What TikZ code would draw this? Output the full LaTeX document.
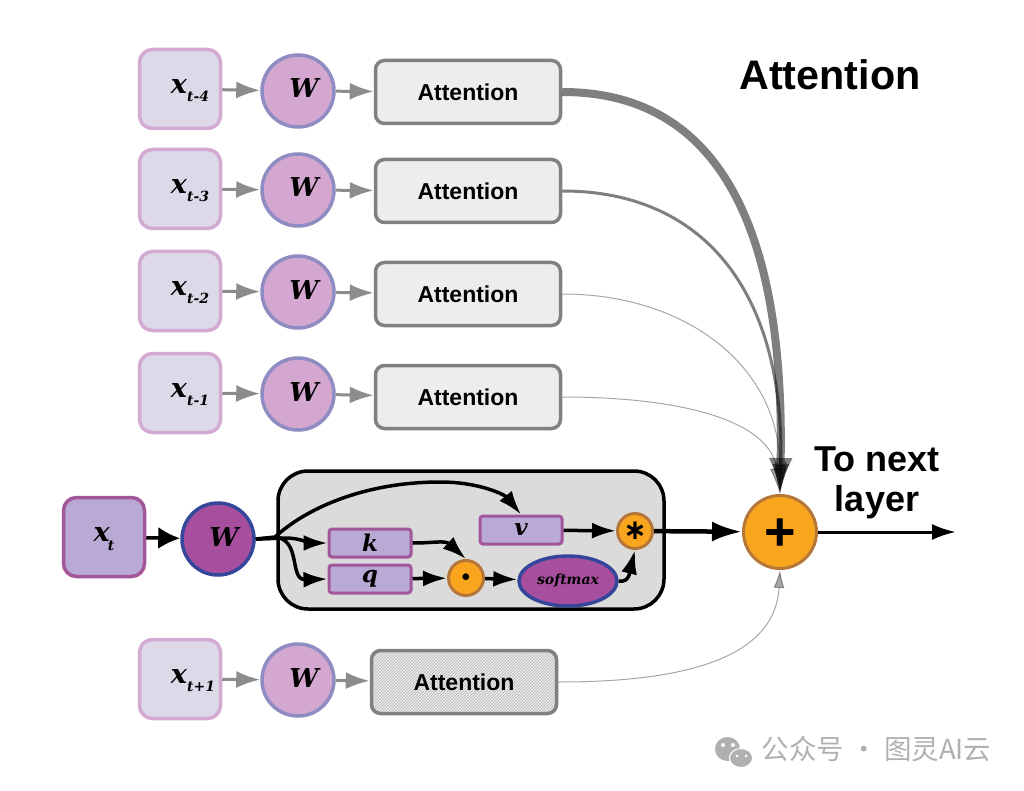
\documentclass[tikz,border=0pt]{standalone}
\usepackage{fontspec}
\setmainfont{Liberation Sans}
\newfontfamily\mathlike{DejaVu Serif}
\newfontfamily\opsign{DejaVu Sans}
\newfontfamily\cjk{Noto Sans CJK SC}
\usetikzlibrary{arrows.meta,patterns,shapes.geometric}
\definecolor{xlight}{HTML}{DED9E9}
\definecolor{xlightline}{HTML}{D2AAD2}
\definecolor{wlight}{HTML}{D3A7D0}
\definecolor{wlightline}{HTML}{8E8CC2}
\definecolor{xdark}{HTML}{B9A9D5}
\definecolor{xdarkline}{HTML}{A2569C}
\definecolor{wdark}{HTML}{A74E9E}
\definecolor{wdarkline}{HTML}{34479A}
\definecolor{opfill}{HTML}{F9A51E}
\definecolor{opline}{HTML}{B5763A}
\definecolor{attline}{HTML}{808080}
\definecolor{markgray}{HTML}{B0B0B0}
\newcommand{\stepname}[1]{\raisebox{-4.5pt}[0pt][0pt]{\hspace*{20pt}x\raisebox{-8pt}{\fontsize{14}{14}\selectfont #1}}}
\newcommand{\wname}{\raisebox{-7pt}[0pt][0pt]{\hspace*{12pt}W}}
\begin{document}
\begin{tikzpicture}[x=1pt,y=-1pt,
        input node/.style={rectangle, rounded corners=13pt, draw=xlightline, fill=xlight, line width=3.5pt, minimum width=81pt, minimum height=79pt, font=\mathlike\bfseries\itshape\fontsize{27}{27}\selectfont},
        input dark/.style={input node, draw=xdarkline, fill=xdark},
        weight node/.style={circle, draw=wlightline, fill=wlight, line width=3.5pt, minimum size=72pt, inner sep=0pt, font=\mathlike\bfseries\itshape\fontsize{26}{26}\selectfont},
        weight dark/.style={weight node, draw=wdarkline, fill=wdark},
        att node/.style={rectangle, rounded corners=9pt, draw=attline, fill=black!7, line width=3.5pt, minimum width=185pt, minimum height=63pt, font=\bfseries\fontsize{23}{23}\selectfont},
        kqv node/.style={rectangle, rounded corners=3pt, draw=xdarkline, fill=xdark, line width=3pt, minimum width=82pt, minimum height=28pt, inner sep=0pt, font=\mathlike\bfseries\itshape\fontsize{23}{23}\selectfont},
        op node/.style={circle, draw=opline, fill=opfill, line width=3pt, minimum size=35pt, inner sep=0pt},
        gray edge/.style={-{Latex[length=24pt,width=17pt]}, color=black!45, line width=3pt},
        black edge/.style={-{Latex[length=24pt,width=16pt]}, line width=3.5pt},
        thin arrow/.style={-{Latex[length=26pt,width=13pt]}, draw=black, opacity=.35, line width=1pt}]
        \tikzstyle{every node}=[text=black]

          % background box comes first
          \node[rectangle, rounded corners=30pt, draw=black, fill=black!14, line width=3.5pt, minimum width=386pt, minimum height=138pt] (block) at (471,540) {};

          \node[input node] (x4) at (180,89) {\stepname{t-4}};
          \node[input node] (x3) at (180,189) {\stepname{t-3}};
          \node[input node] (x2) at (180,291) {\stepname{t-2}};
          \node[input node] (x1) at (180,393) {\stepname{t-1}};
          \node[input node] (xnext) at (180,679) {\hspace*{6pt}\stepname{t+1}};
          \node[input dark] (xnow) at (104,537) {\raisebox{-4.5pt}[0pt][0pt]{x\hspace*{-2pt}\raisebox{-9pt}{\fontsize{14}{14}\selectfont t}}};

          \node[weight node] (w4) at (298,91) {\wname};
          \node[weight node] (w3) at (298,190) {\wname};
          \node[weight node] (w2) at (298,292) {\wname};
          \node[weight node] (w1) at (298,394) {\wname};
          \node[weight node] (wnext) at (298,680) {\wname};
          \node[weight dark] (wnow) at (218,539) {\wname};

          \node[att node] (att4) at (468,92) {Attention};
          \node[att node] (att3) at (468,191) {Attention};
          \node[att node] (att2) at (468,294) {Attention};
          \node[att node] (att1) at (468,397) {Attention};
          \node[att node, fill=none, preaction={fill=black!8}, pattern=north east lines, pattern color=black!30] (attnext) at (464,682) {Attention};

          \node[kqv node] (k) at (370,543) {k};
          \node[kqv node] (q) at (370,579) {q};
          \node[kqv node] (v) at (521,530) {v};
          \node[op node] (dot) at (466,578) {\fontsize{18}{18}\selectfont$\bullet$};
          \node[op node, font=\opsign\bfseries\fontsize{28}{28}\selectfont] (star) at (635,531) {\raisebox{-.31em}[0pt][0pt]{∗}};
          \node[ellipse, draw=wdarkline, fill=wdark, line width=3.5pt, minimum width=98pt, minimum height=50pt, inner sep=0pt, font=\mathlike\bfseries\itshape\fontsize{14}{14}\selectfont] (softmax) at (568,581) {softmax};
          \node[circle, draw=opline, fill=opfill, line width=3pt, minimum size=73pt, inner sep=0pt, font=\bfseries\fontsize{54}{54}\selectfont] (plus) at (780,532) {\raisebox{-.34em}[0pt][0pt]{+}};

          \node[font=\bfseries\fontsize{41.3}{41.3}\selectfont] (title) at (830,75) {Attention};
          \node[align=center, font=\bfseries\fontsize{36}{40}\selectfont] (next) at (877,483) {To next\\layer};
          \coordinate (out) at (956,532);

          \path[gray edge]
            (x4) edge (w4) (w4) edge (att4)
            (x3) edge (w3) (w3) edge (att3)
            (x2) edge (w2) (w2) edge (att2)
            (x1) edge (w1) (w1) edge (att1)
            (xnext) edge (wnext) (wnext) edge (attnext);

          % contributions of the time steps
          \draw[thin arrow, opacity=.5, line width=8pt, -{Latex[length=36pt,width=24pt]}] (att4.east) .. controls (720,92) and (785,230) .. (plus.north);
          \draw[thin arrow, opacity=.5, line width=3pt, -{Latex[length=30pt,width=17pt]}] (att3.east) .. controls (710,191) and (785,300) .. (plus.north);
          \draw[thin arrow] (att2.east) .. controls (685,294) and (780,365) .. (plus.north);
          \draw[thin arrow] (att1.east) .. controls (680,397) and (770,420) .. (plus.north);
          \draw[thin arrow, -{Latex[length=18pt,width=11pt]}] (attnext.east) .. controls (680,682) and (775,660) .. (plus.south);

          \path[black edge]
            (q) edge (dot)
            (dot) edge (softmax)
            (v) edge (star);
          \draw[black edge, -{Latex[length=22pt,width=22pt]}] (xnow) -- (wnow);
          \draw[black edge, line width=4.5pt, -{Latex[length=30pt,width=20pt]}] (star) -- (plus);
          \draw[black edge, line width=3pt] (plus) -- (out);

          % the three branches behind W
          \draw[black edge] (wnow.east) -- (275,537) .. controls (310,505) and (370,482) .. (440,482) .. controls (480,482) and (505,495) .. (v.north);
          \draw[black edge] (wnow.east) -- (285,538) .. controls (300,538) and (310,543) .. (k.west);
          \draw[black edge] (wnow.east) -- (280,538) .. controls (300,545) and (290,580) .. (q.west);
          \draw[black edge] (k.east) .. controls (435,543) and (445,540) .. (dot.north);
          \draw[black edge] (softmax.east) .. controls (630,583) and (630,570) .. (star.south);

          % watermark
          \fill[markgray] (727.5,749) ellipse (12.5pt and 12pt);
          \fill[markgray, draw=white, line width=1pt] (741,758) ellipse (11.5pt and 9.5pt);
          \fill[white] (723,745) circle (2pt) (733,745) circle (2pt) (737,756) circle (1.5pt) (746,756) circle (1.5pt);
          \node[text=markgray, font=\cjk\fontsize{27.5}{27.5}\selectfont] (mark) at (876.5,749) {公众号 · 图灵AI云};

          \useasboundingbox (0,0) rectangle (1024,791);
\end{tikzpicture}
\end{document}
